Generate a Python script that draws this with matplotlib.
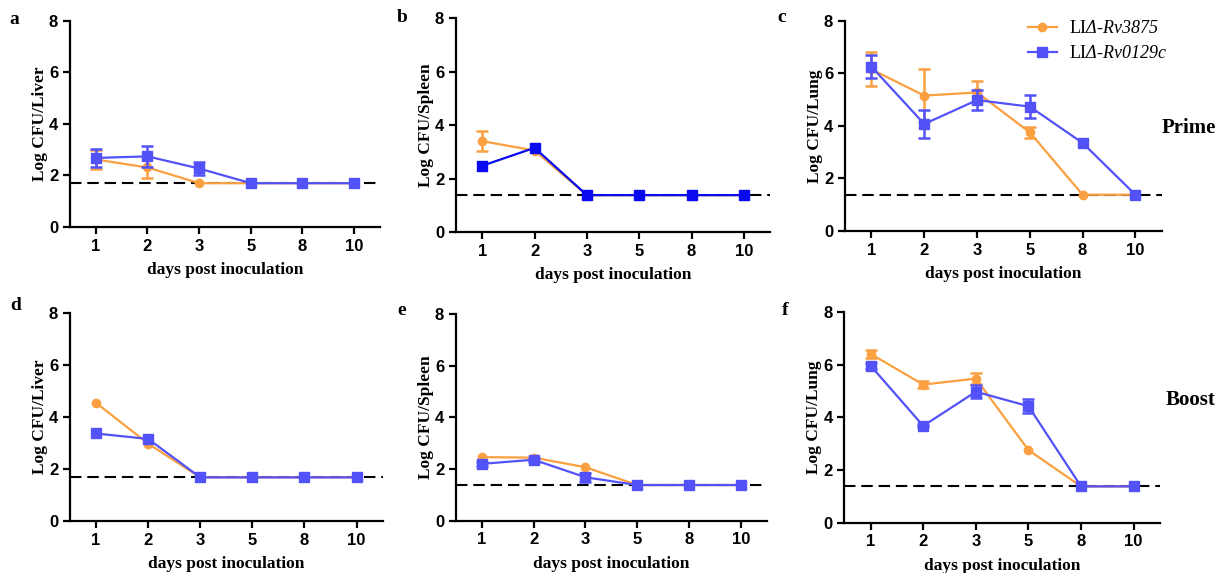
import matplotlib
matplotlib.use("Agg")
import matplotlib.pyplot as plt
from matplotlib.lines import Line2D

plt.rcParams['mathtext.fontset'] = 'custom'
plt.rcParams['mathtext.rm'] = 'Liberation Serif:italic'
plt.rcParams['mathtext.it'] = 'Liberation Serif:italic'

days = ["1", "2", "3", "5", "8", "10"]
label_a = "LI$\\mathit{\u0394}$-$\\mathit{Rv3875}$"
label_b = "LI$\\mathit{\u0394}$-$\\mathit{Rv0129c}$"

# Prime
a_orange = [2.62, 2.31, 1.70, 1.70, 1.70, 1.70]
a_orange_err = [0.38, 0.40, 0, 0, 0, 0]
a_blue = [2.68, 2.74, 2.27, 1.70, 1.70, 1.70]
a_blue_err = [0.35, 0.42, 0.27, 0, 0, 0]
a_limit = 1.70

b_orange = [3.40, 3.05, 1.38, 1.38, 1.38, 1.38]
b_orange_err = [0.38, 0, 0, 0, 0, 0]
b_blue = [2.48, 3.15, 1.38, 1.38, 1.38, 1.38]
b_blue_err = [0, 0, 0, 0, 0, 0]
b_limit = 1.38

c_orange = [6.15, 5.15, 5.27, 3.75, 1.38, 1.38]
c_orange_err = [0.65, 1.0, 0.42, 0.20, 0, 0]
c_blue = [6.25, 4.07, 4.98, 4.73, 3.35, 1.38]
c_blue_err = [0.44, 0.55, 0.38, 0.45, 0, 0]
c_limit = 1.38

# Boost
d_orange = [4.55, 2.98, 1.68, 1.68, 1.68, 1.68]
d_orange_err = [0, 0, 0, 0, 0, 0]
d_blue = [3.37, 3.16, 1.68, 1.68, 1.68, 1.68]
d_blue_err = [0, 0, 0, 0, 0, 0]
d_limit = 1.68

e_orange = [2.46, 2.44, 2.07, 1.38, 1.38, 1.38]
e_orange_err = [0, 0, 0, 0, 0, 0]
e_blue = [2.20, 2.36, 1.68, 1.38, 1.38, 1.38]
e_blue_err = [0.08, 0.08, 0.17, 0, 0, 0]
e_limit = 1.38

f_orange = [6.42, 5.25, 5.48, 2.76, 1.38, 1.38]
f_orange_err = [0.14, 0.14, 0.22, 0, 0, 0]
f_blue = [5.97, 3.68, 4.98, 4.43, 1.38, 1.38]
f_blue_err = [0.12, 0.05, 0.25, 0.27, 0, 0]
f_limit = 1.38

ORANGE = '#FBA040'
BLUE = '#5252F8'
PUREBLUE = '#0A0AF0'

W, H = 1221, 573
panels = [
    ('a', 'Log CFU/Liver', a_orange, a_orange_err, a_blue, a_blue_err, a_limit, BLUE,
     [0.0573, 0.6038, 0.2539, 0.360], (14, 19)),
    ('b', 'Log CFU/Spleen', b_orange, b_orange_err, b_blue, b_blue_err, b_limit, PUREBLUE,
     [0.3735, 0.5951, 0.2572, 0.373], (402, 18)),
    ('c', 'Log CFU/Lung', c_orange, c_orange_err, c_blue, c_blue_err, c_limit, BLUE,
     [0.6921, 0.5969, 0.2594, 0.367], (782, 17)),
    ('d', 'Log CFU/Liver', d_orange, d_orange_err, d_blue, d_blue_err, d_limit, BLUE,
     [0.0573, 0.0908, 0.2561, 0.3624], (16, 305)),
    ('e', 'Log CFU/Spleen', e_orange, e_orange_err, e_blue, e_blue_err, e_limit, BLUE,
     [0.3735, 0.0913, 0.2544, 0.3607], (402, 310)),
    ('f', 'Log CFU/Lung', f_orange, f_orange_err, f_blue, f_blue_err, f_limit, BLUE,
     [0.6915, 0.0878, 0.2585, 0.3672], (785, 310)),
]

fig = plt.figure(figsize=(W / 100, H / 100), dpi=100)
serif = 'Liberation Serif'
sans = 'Liberation Sans'


def draw_series(ax, x, y, err, color, marker, ms, z):
    ax.plot(x, y, color=color, marker=marker, ms=ms, lw=1.6, zorder=z)
    xe = [xi for xi, e in zip(x, err) if e > 0]
    ye = [yi for yi, e in zip(y, err) if e > 0]
    ee = [e for e in err if e > 0]
    if ee:
        ax.errorbar(xe, ye, yerr=ee, fmt='none', ecolor=color, capsize=4.5,
                    elinewidth=1.8, capthick=1.8, zorder=z)


x = list(range(len(days)))
for letter, ylabel, yo, eo, yb, eb, lim, bcol, pos, lpos in panels:
    ax = fig.add_axes(pos)
    ax.axhline(lim, color='black', ls=(0, (5.5, 2.8)), lw=1.5, zorder=1)
    draw_series(ax, x, yo, eo, ORANGE, 'o', 6, 3)
    draw_series(ax, x, yb, eb, bcol, 's', 7, 4)
    ax.set_xlim(-0.5, 5.5)
    ax.set_ylim(0, 8)
    ax.set_yticks([0, 2, 4, 6, 8])
    ax.set_xticks(x)
    ax.set_xticklabels(days)
    for s in ['top', 'right']:
        ax.spines[s].set_visible(False)
    for s in ['left', 'bottom']:
        ax.spines[s].set_linewidth(1.6)
    ax.tick_params(width=1.6, length=5, labelsize=12, pad=3.5)
    for t in ax.get_xticklabels() + ax.get_yticklabels():
        t.set_fontfamily(sans)
        t.set_fontweight('bold')
    ax.set_xlabel('days post inoculation', fontfamily=serif, fontweight='bold', fontsize=12.5, labelpad=6)
    ax.set_ylabel(ylabel, fontfamily=serif, fontweight='bold', fontsize=12.5, labelpad=1)
    fig.text(lpos[0] / W, 1 - lpos[1] / H, letter, fontfamily=serif,
             fontweight='bold', fontsize=14, ha='center', va='center')
    if letter == 'c':
        handles = [Line2D([], [], color=ORANGE, marker='o', ms=6, lw=1.6),
                   Line2D([], [], color=BLUE, marker='s', ms=7, lw=1.6)]
        ax.legend(handles, [label_a, label_b], loc='upper right', frameon=False,
                  bbox_to_anchor=(1.07, 1.08), prop={'family': serif, 'size': 13},
                  handlelength=1.6, handletextpad=0.7, labelspacing=0.45)

fig.text(0.9955, 1 - 128 / H, 'Prime', fontfamily=serif, fontweight='bold', fontsize=15,
         ha='right', va='center')
fig.text(0.9955, 1 - 400 / H, 'Boost', fontfamily=serif, fontweight='bold', fontsize=15,
         ha='right', va='center')

fig.savefig('out.png', dpi=100)
